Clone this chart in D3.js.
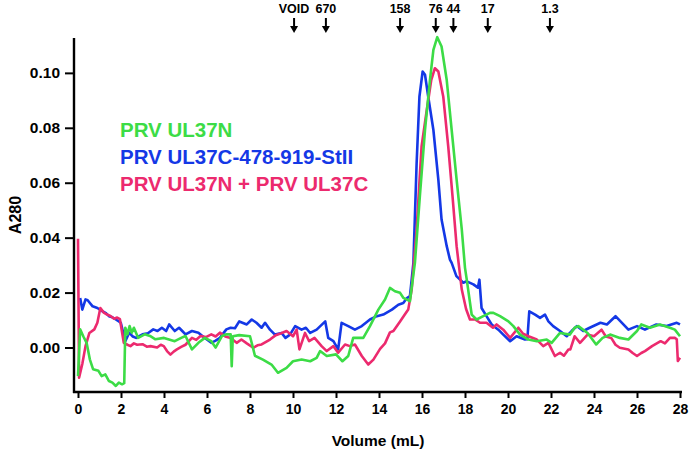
<!DOCTYPE html>
<html><head><meta charset="utf-8">
<script src="https://cdn.jsdelivr.net/npm/d3@7"></script>
<style>
html,body{margin:0;padding:0;background:#fff;}
text{font-family:"Liberation Sans",Arial,Helvetica,sans-serif;font-weight:bold;}
</style></head>
<body>
<svg id="chart" width="693" height="458"></svg>
<script>
// ---- data ----
const seriesNames = ["PRV UL37N", "PRV UL37C-478-919-StII", "PRV UL37N + PRV UL37C"];
const seriesColors = ["#3cdc46", "#1438e6", "#ec2a6e"];

const greenVol = [0,0.1,0.25,0.4,0.55,0.7,0.95,1.1,1.27,1.44,1.6,1.76,1.9,2.05,2.15,2.2,2.3,2.4,2.5,2.6,2.8,3.1,3.35,3.6,4.0,4.5,4.8,5.0,5.3,5.6,5.9,6.2,6.4,6.7,6.9,7.1,7.15,7.2,7.5,8.0,8.23,8.6,9.0,9.3,9.7,10.0,10.4,10.8,11.1,11.26,11.57,12.0,12.3,12.57,12.8,13.27,13.58,13.97,14.28,14.51,14.74,14.98,15.13,15.44,15.67,15.9,16.14,16.37,16.53,16.71,16.91,17.15,17.38,17.61,17.85,18.0,18.08,18.31,18.54,18.85,19.16,19.32,19.63,20.02,20.25,20.56,20.95,21.34,21.8,22.03,22.42,22.88,23.1,23.27,23.7,24.1,24.4,24.75,25.2,25.6,26.0,26.2,26.6,27.07,27.53,27.76,28.0];
const greenA280 = [-0.0104,0.0066,0.004,0.0017,-0.0043,-0.0079,-0.0085,-0.0104,-0.0098,-0.0122,-0.0128,-0.014,-0.0128,-0.0134,-0.013,0.0072,0.0048,0.0078,0.0054,0.0072,0.0035,0.0048,0.0042,0.003,0.0035,0.0023,0.0035,0.0042,-0.0007,0.0017,0.0035,0.0023,0,0.0042,0.0048,0.0048,-0.0068,0.0041,0.0045,0.0041,-0.003,-0.0044,-0.0062,-0.0092,-0.0074,-0.005,-0.0044,-0.005,-0.0038,-0.0013,-0.0031,-0.0025,-0.005,-0.0031,0.0035,0.0035,0.0078,0.0138,0.0175,0.0217,0.0205,0.0199,0.0181,0.0169,0.0308,0.055,0.0792,0.0974,0.1084,0.113,0.1096,0.0974,0.0792,0.0611,0.043,0.029,0.0248,0.012,0.0102,0.0114,0.0126,0.0126,0.0114,0.0095,0.0078,0.0047,0.0029,0.0023,0.0029,0.0017,0.0053,0.0047,0.0072,0.0078,0.0053,0.0011,0.0035,0.0047,0.0035,0.0029,0.006,0.0084,0.0072,0.0084,0.0072,0.0065,0.0041];

const blueVol = [0.1,0.2,0.35,0.45,0.68,0.9,1.13,1.3,1.44,1.6,1.76,1.99,2.2,2.38,2.55,2.7,3.0,3.25,3.5,3.7,3.9,4.1,4.24,4.5,4.7,4.85,5.0,5.3,5.6,5.9,6.2,6.4,6.6,6.9,7.1,7.3,7.5,7.85,8.08,8.3,8.54,8.7,8.93,9.16,9.47,9.65,9.86,10.1,10.4,10.6,10.8,11.1,11.5,11.64,11.88,12.1,12.26,12.57,12.88,13.2,13.58,13.9,14.2,14.6,14.9,15.13,15.3,15.44,15.6,15.75,15.88,16.03,16.14,16.29,16.53,16.76,16.91,17.15,17.3,17.38,17.6,17.77,17.92,18.08,18.39,18.6,18.67,18.77,19.0,19.24,19.55,19.78,20.1,20.4,20.79,20.9,20.99,21.26,21.49,21.72,21.88,22.1,22.42,22.73,22.96,23.2,23.5,23.8,24.3,24.6,25.0,25.3,25.6,26.0,26.37,26.9,27.38,27.85,28.0];
const blueA280 = [0.018,0.0138,0.0175,0.0172,0.015,0.0144,0.0132,0.0125,0.0114,0.011,0.0102,0.009,0.0023,0.0054,0.004,0.0035,0.0048,0.0052,0.0066,0.006,0.0072,0.006,0.0084,0.006,0.0072,0.006,0.0048,0.006,0.0054,0.0035,0.0017,0.0025,0.0035,0.0066,0.0072,0.007,0.0095,0.0084,0.0102,0.009,0.0072,0.009,0.0065,0.0047,0.0053,0.0035,0.0047,0.0078,0.0065,0.0072,0.0053,0.0065,0.0095,0.0035,0.0023,-0.0007,0.009,0.0078,0.0065,0.0078,0.0102,0.0114,0.012,0.0138,0.0156,0.0162,0.018,0.0187,0.0308,0.0671,0.0913,0.1005,0.0993,0.0913,0.0792,0.0611,0.0466,0.0369,0.032,0.0308,0.026,0.0247,0.0236,0.0241,0.023,0.0218,0.0247,0.0144,0.0114,0.0084,0.0065,0.0047,0.0023,0.0041,0.0029,0.003,0.0132,0.012,0.0108,0.012,0.0095,0.0078,0.006,0.0041,0.006,0.0078,0.006,0.0072,0.009,0.0084,0.0114,0.009,0.0065,0.0078,0.0065,0.0084,0.0078,0.009,0.0084];

const pinkVol = [0,0.05,0.2,0.35,0.53,0.76,0.9,1.04,1.2,1.35,1.51,1.68,1.82,1.95,2.13,2.3,2.44,2.6,2.75,3.0,3.2,3.37,3.68,3.85,3.99,4.14,4.3,4.45,4.6,4.8,5.0,5.3,5.5,5.7,5.95,6.2,6.4,6.6,6.85,7.1,7.38,7.6,7.85,8.15,8.35,8.54,8.93,9.2,9.45,9.7,10.0,10.17,10.3,10.56,10.75,11.0,11.33,11.57,11.88,12.1,12.42,12.65,12.88,13.2,13.5,13.74,14.05,14.28,14.51,14.67,14.98,15.2,15.36,15.52,15.75,15.98,16.2,16.43,16.6,16.76,16.99,17.22,17.42,17.61,17.85,18.05,18.23,18.47,18.7,19.0,19.3,19.47,19.78,20.1,20.48,20.7,20.95,21.34,21.64,21.88,22.18,22.42,22.6,22.81,22.9,23.1,23.35,23.7,24.0,24.35,24.55,24.8,25.0,25.2,25.6,25.8,26.0,26.2,26.37,26.7,27.1,27.3,27.53,27.76,27.85,27.9,28.0];
const pinkA280 = [0.0396,-0.011,-0.006,0.0005,0.0053,0.0066,0.009,0.0144,0.0127,0.012,0.0115,0.0105,0.0109,0.0103,0.0017,0.001,0.0005,0.0015,0.001,0.0012,0.0003,0.0005,0,0.001,0.0005,-0.0013,-0.0026,-0.0015,-0.0007,0.0002,0.001,0.0035,0.0028,0.0042,0.0038,0.0048,0.004,0.0054,0.004,0.0035,0.0017,0.0029,0.0015,-0.0001,0.0008,0.0011,0.0029,0.0045,0.0052,0.006,0.0041,0.0065,-0.0007,0.0053,0.0023,0.0035,0.0005,-0.0013,0.0005,-0.0019,0.0011,0.0005,0.0011,-0.0031,-0.0062,-0.0044,-0.0005,0.0015,0.0055,0.006,0.0095,0.012,0.0138,0.0211,0.043,0.0732,0.0853,0.0974,0.1017,0.1005,0.0913,0.0732,0.055,0.0369,0.0211,0.014,0.0102,0.0102,0.009,0.009,0.0072,0.0084,0.0065,0.0035,0.0072,0.005,0.0041,0.0029,0.0005,0.0017,-0.0031,-0.0019,-0.003,-0.0007,-0.0007,0.0041,0.0017,0.0047,0.0041,0.0065,0.004,0.0035,0.001,-0.0001,-0.0007,-0.002,-0.0031,-0.002,-0.0013,0.0005,0.0023,0.0015,0.0035,0.0035,0.003,-0.0049,-0.0037];

const xTicks = [0,2,4,6,8,10,12,14,16,18,20,22,24,26,28];
const yTicks = [0.00,0.02,0.04,0.06,0.08,0.10];
const markerLabels = ["VOID","670","158","76","44","17","1.3"];
const markerVol = [10.05,11.53,14.98,16.64,17.46,19.06,21.95];

// ---- drawing ----
const svg = d3.select("#chart");
svg.append("rect").attr("width",693).attr("height",458).attr("fill","#fff");

const x = d3.scaleLinear().domain([0,28]).range([78,680]);
const y = d3.scaleLinear().domain([-0.0162,0.1127]).range([392,38]);

// axes
const xAxis = d3.axisBottom(x).tickValues(xTicks).tickFormat(d3.format("d")).tickSize(6).tickSizeOuter(0);
const gx = svg.append("g").attr("transform","translate(0,392)").call(xAxis);
gx.select(".domain").attr("d","M73,0H682").attr("stroke","#000").attr("stroke-width",2.4);
gx.selectAll(".tick line").attr("stroke","#000").attr("stroke-width",2);
gx.selectAll(".tick text").attr("font-size",14).attr("dy","0.95em").attr("fill","#000")
  .style("font-family","'Liberation Sans',Arial,sans-serif").style("font-weight","bold");

const yAxis = d3.axisLeft(y).tickValues(yTicks).tickFormat(d3.format(".2f")).tickSize(9).tickSizeOuter(0);
const gy = svg.append("g").attr("transform","translate(74,0)").call(yAxis);
gy.select(".domain").attr("d","M0,38V393").attr("stroke","#000").attr("stroke-width",2.4);
gy.selectAll(".tick line").attr("stroke","#000").attr("stroke-width",2);
gy.selectAll(".tick text").attr("font-size",15.5).attr("x",-14).attr("fill","#000")
  .style("font-family","'Liberation Sans',Arial,sans-serif").style("font-weight","bold");

svg.append("text").attr("x",378).attr("y",446).attr("text-anchor","middle")
  .attr("font-size",15.5).text("Volume (mL)");
svg.append("text").attr("transform","translate(21,215) rotate(-90)").attr("text-anchor","middle")
  .attr("font-size",16).text("A280");

// lines
const line = d3.line().x(d=>x(d[0])).y(d=>y(d[1]));
const series = [
  {vol: blueVol, a: blueA280, color: seriesColors[1]},
  {vol: pinkVol, a: pinkA280, color: seriesColors[2]},
  {vol: greenVol, a: greenA280, color: seriesColors[0]}
];
series.forEach(s=>{
  const pts = s.vol.map((v,i)=>[v,s.a[i]]);
  svg.append("path").datum(pts).attr("d",line).attr("fill","none")
    .attr("stroke",s.color).attr("stroke-width",2.6).attr("stroke-linejoin","round");
});

// size markers
const mk = svg.append("g");
markerVol.forEach((v,i)=>{
  const cx = x(v);
  mk.append("text").attr("x",cx).attr("y",13).attr("text-anchor","middle")
    .attr("font-size",12.5).text(markerLabels[i]);
  mk.append("line").attr("x1",cx).attr("x2",cx).attr("y1",18).attr("y2",28)
    .attr("stroke","#000").attr("stroke-width",2);
  mk.append("path").attr("d",`M${cx-4},26L${cx+4},26L${cx},33Z`).attr("fill","#000");
});

// legend
const legY = [137,164,191];
seriesNames.forEach((n,i)=>{
  svg.append("text").attr("x",120).attr("y",legY[i]).attr("font-size",20.5)
    .attr("fill",seriesColors[i]).text(n);
});
</script>
</body></html>
